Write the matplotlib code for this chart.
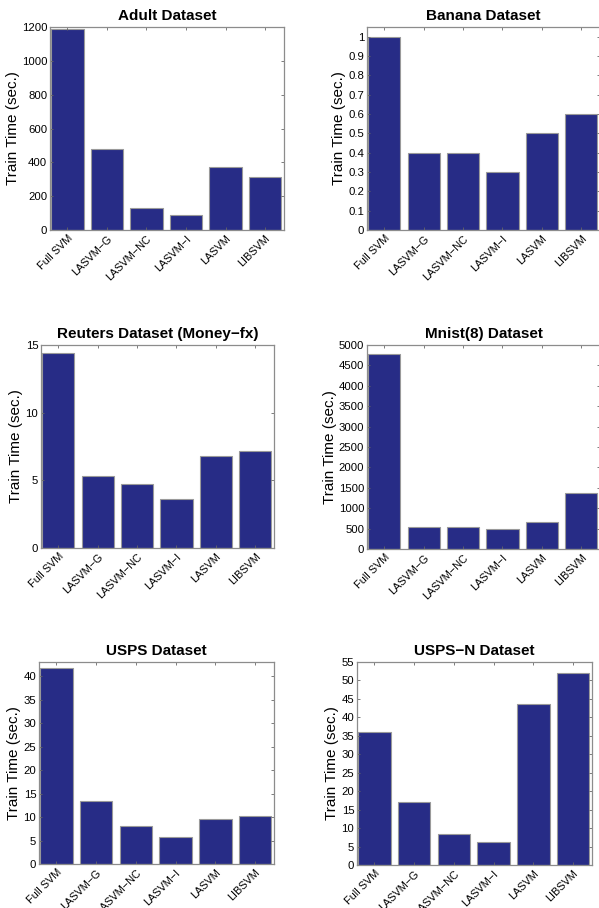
import matplotlib
matplotlib.use("Agg")
import matplotlib.pyplot as plt
from matplotlib.transforms import ScaledTranslation

plt.rcParams['font.family'] = ['Liberation Sans', 'DejaVu Sans']

methods = ["Full SVM", "LASVM\u2212G", "LASVM\u2212NC", "LASVM\u2212I", "LASVM", "LIBSVM"]

adult_time = [1190, 478, 128, 90, 375, 315]
banana_time = [1.0, 0.4, 0.4, 0.3, 0.5, 0.6]
reuters_time = [14.4, 5.3, 4.7, 3.6, 6.8, 7.2]
mnist_time = [4770, 550, 530, 500, 650, 1380]
usps_time = [41.8, 13.4, 8.0, 5.8, 9.5, 10.3]
uspsn_time = [35.9, 17.0, 8.3, 6.1, 43.7, 52.1]

titles = ["Adult Dataset", "Banana Dataset", "Reuters Dataset (Money\u2212fx)",
          "Mnist(8) Dataset", "USPS Dataset", "USPS\u2212N Dataset"]
series = [adult_time, banana_time, reuters_time, mnist_time, usps_time, uspsn_time]
y_limits = [(0, 1200), (0, 1.05), (0, 15), (0, 5000), (0, 43), (0, 55)]
y_ticks = [
    [0, 200, 400, 600, 800, 1000, 1200],
    [0, 0.1, 0.2, 0.3, 0.4, 0.5, 0.6, 0.7, 0.8, 0.9, 1],
    [0, 5, 10, 15],
    [0, 500, 1000, 1500, 2000, 2500, 3000, 3500, 4000, 4500, 5000],
    [0, 5, 10, 15, 20, 25, 30, 35, 40],
    [0, 5, 10, 15, 20, 25, 30, 35, 40, 45, 50, 55],
]
y_ticklabels = [
    None,
    ["0", "0.1", "0.2", "0.3", "0.4", "0.5", "0.6", "0.7", "0.8", "0.9", "1"],
    None, None, None, None,
]

W, H = 599, 908
# axes boxes in pixels: left, right, top, bottom
boxes = [
    (50, 284, 27, 230),
    (367, 600, 27, 230),
    (41, 274, 345, 548),
    (367, 600, 345, 549),
    (39, 274, 662, 864),
    (357, 592, 662, 865),
]

fig = plt.figure(figsize=(W / 100, H / 100), dpi=100)
bar_color = "#272c86"
edge_color = "#9a9a9a"
label_shift = ScaledTranslation(14 / 100, 0, fig.dpi_scale_trans)

for box, title, vals, ylim, yt, ytl in zip(boxes, titles, series, y_limits, y_ticks, y_ticklabels):
    l, r, t, b = box
    ax = fig.add_axes([l / W, 1 - b / H, (r - l) / W, (b - t) / H])
    x = list(range(1, len(methods) + 1))
    ax.bar(x, vals, width=0.82, color=bar_color, edgecolor=edge_color, linewidth=0.8)
    ax.set_xlim(0.56, 6.48)
    ax.set_ylim(*ylim)
    ax.set_yticks(yt)
    if ytl is not None:
        ax.set_yticklabels(ytl)
    ax.set_xticks(x)
    ax.set_xticklabels(methods, rotation=45, ha="right", va="top",
                       rotation_mode="anchor", fontsize=7.8)
    for lab in ax.get_xticklabels():
        lab.set_transform(lab.get_transform() + label_shift)
    ax.tick_params(axis="y", labelsize=8.2, direction="in", length=2.5, width=0.6,
                   right=True, color="#666666", pad=2)
    ax.tick_params(axis="x", direction="in", length=2.5, width=0.6, top=True,
                   color="#666666", pad=2.5)
    for s in ax.spines.values():
        s.set_color("#8c8c8c")
        s.set_linewidth(0.9)
    ax.set_title(title, fontsize=11, fontweight="bold", pad=5)
    ax.set_ylabel("Train Time (sec.)", fontsize=11, labelpad=1.5)

fig.savefig("out.png", dpi=100)
